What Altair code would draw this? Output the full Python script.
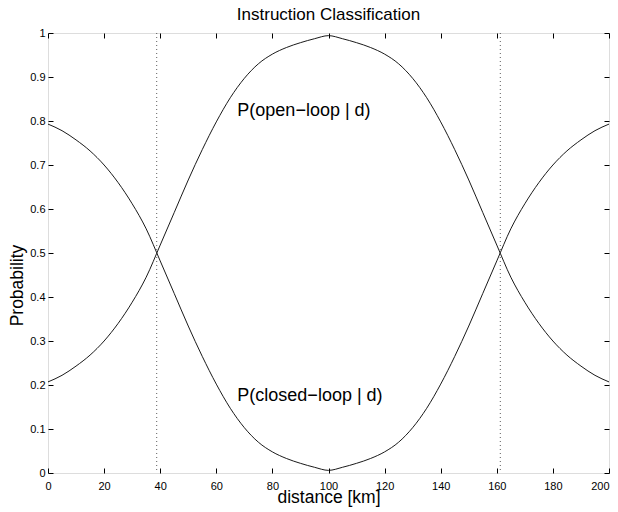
import altair as alt
import pandas as pd

distance = [0, 5, 10, 15, 20, 25, 30, 35, 40, 45, 50, 55, 60, 65, 70, 75, 80, 85, 90, 95, 100,
            105, 110, 115, 120, 125, 130, 135, 140, 145, 150, 155, 160, 165, 170, 175, 180, 185, 190, 195, 200]
p_open = [0.207, 0.222, 0.243, 0.268, 0.300, 0.340, 0.388, 0.445, 0.518, 0.592, 0.666, 0.735, 0.798, 0.853, 0.897, 0.930, 0.952, 0.967, 0.978, 0.987, 0.994,
          0.987, 0.978, 0.967, 0.952, 0.930, 0.897, 0.853, 0.798, 0.735, 0.666, 0.592, 0.518, 0.445, 0.388, 0.340, 0.300, 0.268, 0.243, 0.222, 0.207]
p_closed = [0.793, 0.778, 0.757, 0.732, 0.700, 0.660, 0.612, 0.555, 0.482, 0.408, 0.334, 0.265, 0.202, 0.147, 0.103, 0.070, 0.048, 0.033, 0.022, 0.013, 0.006,
            0.013, 0.022, 0.033, 0.048, 0.070, 0.103, 0.147, 0.202, 0.265, 0.334, 0.408, 0.482, 0.555, 0.612, 0.660, 0.700, 0.732, 0.757, 0.778, 0.793]
boundaries = [38.75, 161.25]
label_text = ["P(open\u2212loop | d)", "P(closed\u2212loop | d)"]
label_x = [67.5, 67.5]
label_y = [0.822, 0.174]
x_ticks = list(range(0, 201, 20))
y_ticks = [0, 0.1, 0.2, 0.3, 0.4, 0.5, 0.6, 0.7, 0.8, 0.9, 1]

W, H = 561, 440
FONT = "Liberation Sans"

rows = []
for d, o, c in zip(distance, p_open, p_closed):
    rows.append({"distance": d, "p": o, "series": "open"})
    rows.append({"distance": d, "p": c, "series": "closed"})
df = pd.DataFrame(rows)
df_b = pd.DataFrame({"distance": boundaries})
df_t = pd.DataFrame({"distance": label_x, "p": label_y, "text": label_text})

xscale = alt.Scale(domain=[0, 200], nice=False, zero=False)
yscale = alt.Scale(domain=[0, 1], nice=False, zero=False)

main_x_axis = alt.Axis(values=x_ticks, ticks=False, tickSize=0, domain=False, grid=False,
                       labelFontSize=11, labelPadding=7, labelFont=FONT, labelColor="black",
                       labelAlign={"condition": {"test": "datum.value == 200", "value": "right"}, "value": "center"},
                       title="distance [km]", titleFontSize=17.5, titleFont=FONT, titleFontWeight="normal",
                       titleColor="black", titleX=W / 2, titleY=29.5, titleBaseline="alphabetic", titleAlign="center")
main_y_axis = alt.Axis(values=y_ticks, ticks=False, tickSize=0, domain=False, grid=False, format="~g",
                       labelFontSize=11, labelPadding=3, labelFont=FONT, labelColor="black",
                       title="Probability", titleFontSize=17.5, titleFont=FONT, titleFontWeight="normal",
                       titleColor="black", titleX=-31, titleY=252, titleBaseline="middle", titleAlign="center")

lines = alt.Chart(df).mark_line(color="black", strokeWidth=0.9, interpolate="monotone").encode(
    x=alt.X("distance:Q", scale=xscale, axis=main_x_axis),
    y=alt.Y("p:Q", scale=yscale, axis=main_y_axis),
    detail="series:N",
)


def tick_layer(x_orient, y_orient):
    return alt.Chart(df).mark_line(opacity=0).encode(
        x=alt.X("distance:Q", scale=xscale,
                axis=alt.Axis(orient=x_orient, offset=-H, values=x_ticks, labels=False, domain=False,
                              grid=False, ticks=True, tickSize=5, tickColor="black", tickWidth=1, title=None)),
        y=alt.Y("p:Q", scale=yscale,
                axis=alt.Axis(orient=y_orient, offset=-W, values=y_ticks, labels=False, domain=False,
                              grid=False, ticks=True, tickSize=5, tickColor="black", tickWidth=1, title=None)),
        detail="series:N",
    )


ticks_a = tick_layer("top", "right")
ticks_b = tick_layer("bottom", "left")

rules = alt.Chart(df_b).mark_rule(color="#333333", strokeWidth=0.8, strokeDash=[1, 3]).encode(
    x=alt.X("distance:Q", scale=xscale, axis=None),
)

labels = alt.Chart(df_t).mark_text(align="left", baseline="middle", fontSize=18, font=FONT, color="black").encode(
    x=alt.X("distance:Q", scale=xscale, axis=None),
    y=alt.Y("p:Q", scale=yscale, axis=None),
    text="text:N",
)

chart = alt.layer(lines, ticks_a, ticks_b, rules, labels).resolve_axis(
    x="independent", y="independent"
).properties(
    width=W,
    height=H,
    autosize=alt.AutoSizeParams(type="none"),
    padding={"left": 40, "top": 25, "right": 1, "bottom": 34},
    title=alt.Title("Instruction Classification", fontSize=17, font=FONT, fontWeight="normal",
                    color="black", offset=3),
).configure_view(stroke="black", strokeWidth=1).configure(background="white")

chart.save("out.html", embed_options={"renderer": "svg", "actions": False})
